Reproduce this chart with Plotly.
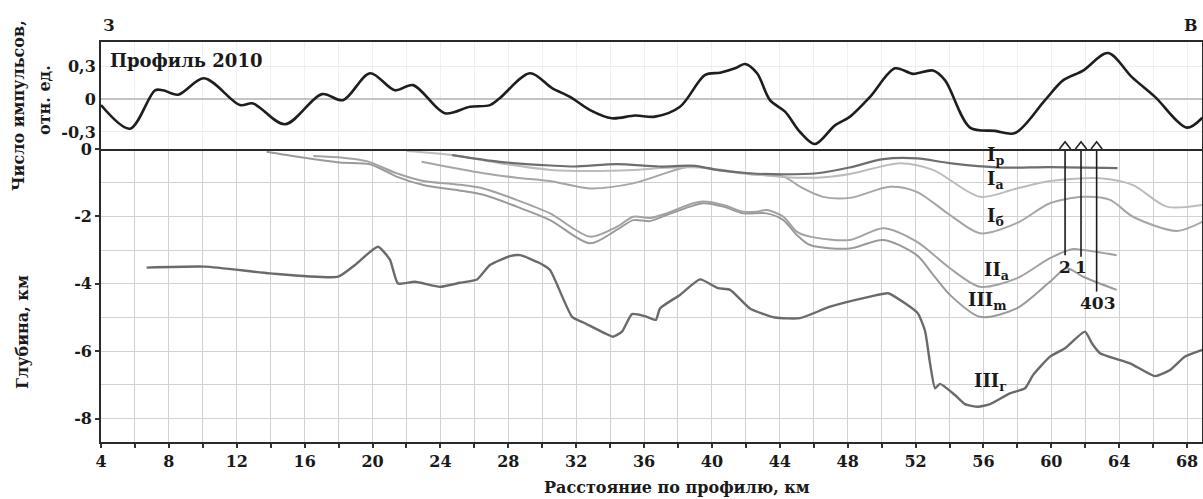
import plotly.graph_objects as go

# ---- top panel: pulse count, rel. units ----
pulse_km = [4.0, 5.71, 7.18, 7.65, 8.54, 10.07, 12.19, 12.96, 14.84, 17.02, 18.26, 19.85, 21.32, 22.39,
            24.27, 25.74, 26.92, 27.51, 29.28, 30.58, 31.64, 32.82, 34.11, 35.47, 36.65, 38.12, 39.6,
            40.48, 41.36, 41.95, 42.66, 43.42, 44.31, 45.19, 46.07, 47.25, 48.14, 49.32, 50.79, 51.85,
            53.03, 53.74, 55.21, 56.68, 57.86, 59.63, 60.69, 61.87, 63.34, 64.75, 66.11, 67.99, 68.9]
pulse_val = [-0.055, -0.27, 0.08, 0.08, 0.04, 0.19, -0.055, -0.04, -0.23, 0.045, -0.01, 0.235, 0.08, 0.127,
             -0.13, -0.07, -0.055, 0.01, 0.235, 0.1, 0.02, -0.1, -0.175, -0.15, -0.16, -0.07, 0.22,
             0.24, 0.28, 0.32, 0.235, -0.01, -0.115, -0.3, -0.41, -0.24, -0.16, 0.02, 0.28, 0.23,
             0.26, 0.17, -0.26, -0.29, -0.31, -0.01, 0.17, 0.26, 0.42, 0.2, 0.02, -0.26, -0.17]

# ---- bottom panel: horizons, depth km ----
Ip_km = [24.7, 27.5, 30.5, 31.9, 34.4, 36.9, 39.0, 40.3, 42.2, 44.2, 46.2, 48.1, 50.1, 52.1, 54.0, 57.0, 59.9, 63.9]
Ip_d = [-0.18, -0.38, -0.49, -0.52, -0.45, -0.52, -0.5, -0.62, -0.72, -0.75, -0.72, -0.55, -0.3, -0.28, -0.42,
        -0.55, -0.54, -0.57]

Ia_km = [22.0, 24.7, 27.5, 30.5, 32.8, 35.35, 37.3, 39.3, 42.24, 44.19, 46.17, 48.14, 51.08, 53.03, 55.8,
         57.96, 59.92, 62.87, 64.81, 66.8, 68.9]
Ia_d = [-0.06, -0.18, -0.42, -0.62, -0.65, -0.62, -0.56, -0.55, -0.73, -0.83, -0.85, -0.74, -0.42, -0.62,
        -1.42, -1.17, -0.95, -0.87, -1.07, -1.71, -1.66]

Ib_km = [22.89, 26.53, 28.49, 30.46, 32.82, 35.35, 38.71, 40.28, 42.24, 44.19, 44.6, 45.19, 46.55, 48.14,
         50.49, 52.07, 54.03, 55.8, 57.96, 59.92, 61.87, 63.46, 64.81, 67.39, 68.9]
Ib_d = [-0.38, -0.72, -0.85, -0.95, -1.17, -1.02, -0.52, -0.62, -0.75, -0.82, -0.92, -1.12, -1.42, -1.45,
        -1.12, -1.27, -1.96, -2.5, -2.2, -1.61, -1.42, -1.51, -2.01, -2.43, -2.16]

IIa_km = [16.51, 18.26, 19.66, 21.42, 22.99, 24.96, 26.53, 28.49, 30.46, 32.82, 34.39, 35.37, 36.35, 37.33,
          38.71, 39.49, 40.67, 41.85, 42.64, 43.23, 44.21, 45.0, 45.78, 48.14, 50.1, 52.07, 54.03, 55.8,
          57.96, 59.92, 61.3, 61.88, 63.85]
IIa_d = [-0.21, -0.26, -0.36, -0.72, -0.95, -1.05, -1.17, -1.51, -1.91, -2.6, -2.31, -2.01, -2.05, -1.91,
         -1.64, -1.56, -1.66, -1.86, -1.86, -1.81, -2.01, -2.45, -2.6, -2.7, -2.35, -2.75, -3.54, -4.09,
         -3.84, -3.24, -2.97, -3.0, -3.15]

IIIm_km = [13.76, 15.73, 18.08, 19.85, 21.42, 22.99, 24.96, 26.53, 28.49, 30.46, 32.82, 34.39, 35.37, 36.35,
           37.33, 38.71, 39.49, 40.67, 41.85, 43.23, 44.21, 45.0, 45.78, 48.14, 50.1, 52.07, 53.05, 54.03,
           55.8, 57.96, 59.92, 60.9, 61.88, 63.85]
IIIm_d = [-0.08, -0.24, -0.4, -0.45, -0.82, -1.07, -1.22, -1.36, -1.71, -2.11, -2.8, -2.4, -2.11, -2.14,
          -1.96, -1.71, -1.61, -1.71, -1.91, -1.91, -2.11, -2.55, -2.85, -2.95, -2.7, -3.15, -3.74, -4.33,
          -4.98, -4.73, -3.94, -3.54, -3.79, -4.18]

IIIg_km = [6.69, 10.13, 13.96, 17.97, 18.97, 20.32, 21.03, 21.5, 22.5, 23.98, 25.16, 26.16, 26.92, 28.1,
           28.69, 29.87, 30.46, 31.76, 32.52, 33.7, 34.17, 34.7, 35.29, 36.06, 36.7, 36.94, 38.12, 39.3,
           40.36, 41.07, 42.24, 43.72, 45.19, 46.96, 49.32, 50.38, 51.38, 52.14, 52.56, 52.85, 53.15,
           53.44, 54.32, 54.91, 55.68, 56.39, 57.56, 58.45, 58.92, 59.92, 60.81, 61.98, 62.4, 62.87,
           64.64, 66.11, 67.0, 67.88, 68.9]
IIIg_d = [-3.52, -3.49, -3.69, -3.79, -3.44, -2.9, -3.29, -3.99, -3.94, -4.09, -3.97, -3.87, -3.44, -3.18,
          -3.15, -3.39, -3.59, -4.98, -5.17, -5.47, -5.57, -5.42, -4.9, -4.96, -5.07, -4.73, -4.33, -3.87,
          -4.13, -4.18, -4.73, -5.0, -5.02, -4.68, -4.38, -4.28, -4.58, -4.88, -5.4, -6.35, -7.1,
          -6.97, -7.3, -7.57, -7.65, -7.57, -7.25, -7.1, -6.71, -6.16, -5.91, -5.42, -5.77, -6.06,
          -6.36, -6.74, -6.56, -6.16, -5.96]

# wells
well_names = ["2", "1", "403"]
well_km = [60.81, 61.75, 62.67]
well_bottom = [-3.15, -3.2, -4.23]

x_ticks = list(range(4, 69, 4))
FONT = "DejaVu Serif"

# ---- layout geometry (pixels) ----
W, H = 1203, 499
L, R, T, B = 101, 1, 42, 57
PW, PH = W - L - R, H - T - B
split_px = 149  # boundary between panels
km_per_px = 1 / 16.97
depth_per_px = 1 / 33.7
x_range = [4, 4 + PW * km_per_px]
y_bot_range = [-(T + PH - split_px) * depth_per_px, 0]
top_dom = (T + PH - split_px) / PH

def px(xp):
    return (xp - L) / PW

def py(yp):
    return (T + PH - yp) / PH

fig = go.Figure()

# top panel curve
fig.add_trace(go.Scatter(x=pulse_km, y=pulse_val, mode="lines", xaxis="x2", yaxis="y2",
                         line=dict(color="#1e1e1e", width=2.6, shape="spline", smoothing=0.9),
                         showlegend=False, hoverinfo="skip"))

# well chevrons at bottom of top panel
for k in well_km:
    fig.add_trace(go.Scatter(x=[k - 0.33, k, k + 0.33], y=[-0.455, -0.39, -0.455], mode="lines",
                             xaxis="x2", yaxis="y2", line=dict(color="#222", width=1.6),
                             showlegend=False, hoverinfo="skip"))

# horizons
series = [
    (IIIg_km, IIIg_d, "#6a6a6a", 2.4, 0.5),
    (IIIm_km, IIIm_d, "#9a9a9a", 2.0, 0.8),
    (IIa_km, IIa_d, "#a2a2a2", 2.0, 0.8),
    (Ib_km, Ib_d, "#a6a6a6", 2.0, 0.8),
    (Ia_km, Ia_d, "#bcbcbc", 2.0, 0.8),
    (Ip_km, Ip_d, "#6e6e6e", 2.2, 0.8),
]
for xs, ys, col, w, sm in series:
    fig.add_trace(go.Scatter(x=xs, y=ys, mode="lines",
                             line=dict(color=col, width=w, shape="spline", smoothing=sm),
                             showlegend=False, hoverinfo="skip"))

# wells vertical lines
for k, b in zip(well_km, well_bottom):
    fig.add_trace(go.Scatter(x=[k, k], y=[0, b], mode="lines", line=dict(color="#1a1a1a", width=1.6),
                             showlegend=False, hoverinfo="skip"))

axis_font = dict(family=FONT, size=16, color="#1a1a1a", weight="bold")
grid_col = "#d2d2d2"

fig.update_layout(
    width=W, height=H,
    margin=dict(l=L, r=R, t=T, b=B, autoexpand=False),
    paper_bgcolor="white", plot_bgcolor="white",
    font=dict(family=FONT, color="#1a1a1a"),
    xaxis=dict(domain=[0, 1], range=x_range, anchor="y", automargin=False,
               tickvals=x_ticks, ticktext=[str(v) for v in x_ticks],
               ticks="outside", ticklen=4, tickwidth=1.5, tickcolor="#333",
               tickfont=axis_font, showgrid=True, gridcolor=grid_col, gridwidth=1.3,
               minor=dict(dtick=2, tick0=4, ticks="outside", ticklen=4, tickcolor="#333",
                          showgrid=True, gridcolor=grid_col, gridwidth=1.3),
               showline=True, linecolor="#2a2a2a", linewidth=2, mirror=False, zeroline=False),
    yaxis=dict(domain=[0, top_dom], range=y_bot_range, anchor="x", automargin=False,
               tickvals=[0, -2, -4, -6, -8], ticktext=["0", "-2", "-4", "-6", "-8"],
               ticks="outside", ticklen=4, tickwidth=1.5, tickcolor="#333",
               tickfont=axis_font, showgrid=True, gridcolor=grid_col, gridwidth=1.3,
               minor=dict(dtick=1, tick0=0, showgrid=True, gridcolor=grid_col, gridwidth=1.3),
               showline=True, linecolor="#2a2a2a", linewidth=1.6, mirror=True, zeroline=False),
    xaxis2=dict(domain=[0, 1], range=x_range, anchor="y2", matches="x", automargin=False,
                showticklabels=False, ticks="", showgrid=True, gridcolor="#f0f0f0", gridwidth=1,
                dtick=2, tick0=4,
                showline=True, linecolor="#2a2a2a", linewidth=2, mirror=True, zeroline=False),
    yaxis2=dict(domain=[top_dom, 1], range=[-0.455, 0.52], anchor="x2", automargin=False,
                tickvals=[-0.3, 0, 0.3], ticktext=["-0,3", "0", "0,3"],
                ticks="", tickfont=axis_font, showgrid=True, gridcolor="#ececec", gridwidth=1,
                zeroline=True, zerolinecolor="#c4c4c4", zerolinewidth=1.5,
                showline=True, linecolor="#2a2a2a", linewidth=2, mirror=True),
)

ann = []
def label(x, y, text, size=17, xref="x", yref="y", xanchor="left", yanchor="middle", angle=0):
    ann.append(dict(x=x, y=y, xref=xref, yref=yref, text=text, showarrow=False,
                    xanchor=xanchor, yanchor=yanchor, textangle=angle,
                    font=dict(family=FONT, size=size, color="#1a1a1a", weight="bold")))

# direction letters
label(px(101), py(25), "З", size=16, xref="paper", yref="paper", xanchor="left")
label(px(1200), py(25), "В", size=16, xref="paper", yref="paper", xanchor="right")
# profile title inside top panel
label(4.4, 0.355, "Профиль 2010", size=18, xref="x2", yref="y2")
# horizon labels
label(56.1, -0.22, "I<sub>р</sub>", size=18)
label(56.1, -0.92, "I<sub>а</sub>", size=18)
label(56.1, -2.02, "I<sub>б</sub>", size=18)
label(55.9, -3.62, "II<sub>а</sub>", size=18)
label(54.95, -4.5, "III<sub>m</sub>", size=18)
label(55.35, -6.9, "III<sub>г</sub>", size=18)
# well labels
label(well_km[0], -3.5, well_names[0], size=17, xanchor="center")
label(well_km[1], -3.5, well_names[1], size=17, xanchor="center")
label(well_km[2] + 0.1, -4.57, well_names[2], size=17, xanchor="center")
# axis titles
label(px(677), py(487), "Расстояние по профилю, км", size=16, xref="paper", yref="paper", xanchor="center")
label(px(22), py(332), "Глубина, км", size=16, xref="paper", yref="paper", xanchor="center", angle=-90)
label(px(18), py(106), "Число импульсов,", size=16, xref="paper", yref="paper", xanchor="center", angle=-90)
label(px(44), py(100), "отн. ед.", size=16, xref="paper", yref="paper", xanchor="center", angle=-90)

fig.update_layout(annotations=ann)
fig.write_html("out.html", config={"displayModeBar": False},
               post_script="document.body.style.margin='0';document.body.style.overflow='hidden';")
